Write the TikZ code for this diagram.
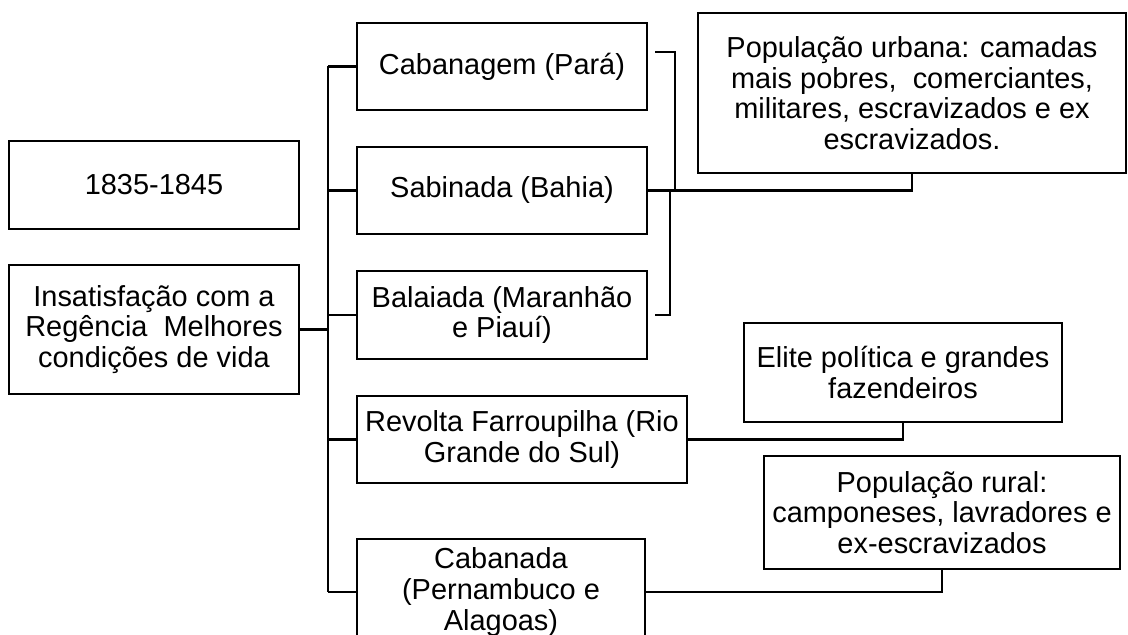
\documentclass[tikz,border=0pt]{standalone}
\usepackage{fontspec}
\setmainfont{Liberation Sans}
\tikzset{
  box/.style={draw, line width=1.8pt, align=center, inner sep=0pt},
}
\begin{document}
\begin{tikzpicture}[x=0.75pt, y=-0.75pt, line width=1.8pt, font=\fontsize{21.7}{23}\selectfont]
\useasboundingbox (0,0) rectangle (1128,635);

\node[box, minimum width=217.5pt, minimum height=66pt] (date) at (154,185) {1835-1845};
\node[box, minimum width=217.5pt, minimum height=96.75pt] (cause) at (154,329.5) {Insatisfação com a\\Regência\ \ Melhores\\condições de vida};

\node[box, minimum width=217.5pt, minimum height=65.25pt] (caban) at (502,66.5) {Cabanagem (Pará)};
\node[box, minimum width=217.5pt, minimum height=65.25pt] (sabin) at (502,190.5) {Sabinada (Bahia)};
\node[box, minimum width=217.5pt, minimum height=66pt] (balai) at (502,315) {Balaiada (Maranhão\\e Piauí)};
\node[box, minimum width=247.5pt, minimum height=65.25pt] (farrou) at (522,439.5) {Revolta Farroupilha (Rio\\Grande do Sul)};
\node[box, minimum width=216pt, minimum height=79.5pt] (cabanada) at (501,592) {Cabanada\\(Pernambuco e\\Alagoas)};

\node[box, minimum width=321pt, minimum height=120pt] (urbana) at (912,93) {População urbana: camadas\\mais pobres,\ \ comerciantes,\\militares, escravizados e ex\\escravizados.};
\node[box, minimum width=238.5pt, minimum height=74.25pt] (elite) at (903,372.5) {Elite política e grandes\\fazendeiros};
\node[box, minimum width=267pt, minimum height=84.75pt] (rural) at (942,512.5) {População rural:\\camponeses, lavradores e\\ex-escravizados};

% trunk
\coordinate (trunk) at (328,0);
\draw (cause.east) -- (cause.east -| trunk);
\draw (caban.west -| trunk) -- (cabanada.west -| trunk);
\foreach \n in {caban,sabin,balai,farrou,cabanada}
\draw (\n.west) -- (\n.west -| trunk);

% brackets
\coordinate (urbtop) at (655,52);
\coordinate (urbbot) at (655,315);
\draw (urbtop) -- ++(20,0) -- ++(0,139);
\draw (urbbot) -- ++(15,0) -- ++(0,-124);
\draw (sabin.east) -| (urbana.south);

\draw (farrou.east) -| (elite.south);
\draw (cabanada.east) -| (rural.south);
\end{tikzpicture}
\end{document}
